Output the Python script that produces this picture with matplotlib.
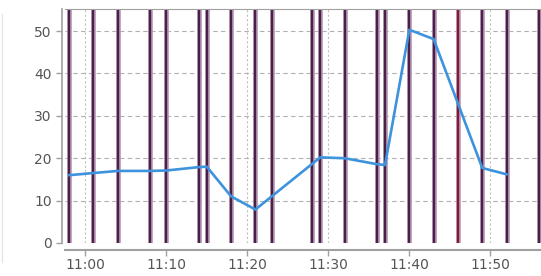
import numpy as np
import pandas as pd
import matplotlib
matplotlib.use("Agg")
import matplotlib.pyplot as plt
import matplotlib.dates as mdates

# blue series (time, value)
line_times = ["10:58", "11:01", "11:04", "11:08", "11:10", "11:14", "11:15", "11:18",
              "11:21", "11:29", "11:32", "11:36", "11:37", "11:40", "11:43", "11:49", "11:52"]
line_values = [16.0, 16.5, 17.0, 17.0, 17.1, 17.9, 18.0, 11.0,
               7.9, 20.2, 20.0, 18.6, 18.4, 50.3, 48.1, 17.7, 16.2]

# event markers (vertical bars)
event_times = ["10:58", "11:01", "11:04", "11:08", "11:10", "11:14", "11:15", "11:18",
               "11:21", "11:23", "11:28", "11:29", "11:32", "11:36", "11:37", "11:40",
               "11:43", "11:49", "11:52", "11:56"]
alert_times = ["11:46"]

x_ticks = ["11:00", "11:10", "11:20", "11:30", "11:40", "11:50"]
y_ticks = [0, 10, 20, 30, 40, 50]


def to_dt(ts):
    return pd.to_datetime(["2024-01-01 " + t for t in ts])


fig = plt.figure(figsize=(5.41, 2.76), dpi=100)
ax = fig.add_axes([65 / 541, 1 - 243 / 276, 476 / 541, 234 / 276])

ax.set_xlim(pd.Timestamp("2024-01-01 10:57:30"), pd.Timestamp("2024-01-01 11:56:15"))
ax.set_ylim(0, 55.2)

# grid
ax.set_yticks(y_ticks)
ax.set_xticks(to_dt(x_ticks))
ax.xaxis.set_major_formatter(mdates.DateFormatter("%H:%M"))
ax.grid(axis="y", color="#b0b0b0", linestyle=(0, (4, 3)), linewidth=0.8)
ax.grid(axis="x", color="#c0c0c0", linestyle=(0, (2, 2)), linewidth=0.8)
ax.set_axisbelow(True)

# vertical event bars
for t in to_dt(event_times):
    ax.axvline(t, color="#b79bb7", linewidth=3.4, zorder=2)
    ax.axvline(t, color="#4a1f48", linewidth=1.7, zorder=2)
for t in to_dt(alert_times):
    ax.axvline(t, color="#c99aae", linewidth=3.4, zorder=2)
    ax.axvline(t, color="#7a1a40", linewidth=1.7, zorder=2)

ax.plot(to_dt(line_times), line_values, color="#3d93dd", linewidth=1.9, zorder=3,
        solid_joinstyle="round")

# spines
ax.spines["right"].set_visible(False)
ax.spines["top"].set_color("#a0a0a0")
ax.spines["left"].set_color("#a0a0a0")
ax.spines["bottom"].set_color("#a0a0a0")
ax.spines["left"].set_position(("outward", 2))
ax.spines["bottom"].set_position(("outward", 5))
ax.spines["left"].set_linewidth(1.2)
ax.spines["bottom"].set_linewidth(1.5)

ax.tick_params(axis="both", colors="#a0a0a0", labelcolor="#555555", labelsize=10,
               length=4, width=1, direction="out")
ax.tick_params(axis="x", pad=2)

fig.add_artist(plt.Line2D([1.5 / 541, 1.5 / 541], [0.05, 0.95], color="#e6e6e6", linewidth=1))

fig.savefig("out.png", dpi=100, facecolor="white")
